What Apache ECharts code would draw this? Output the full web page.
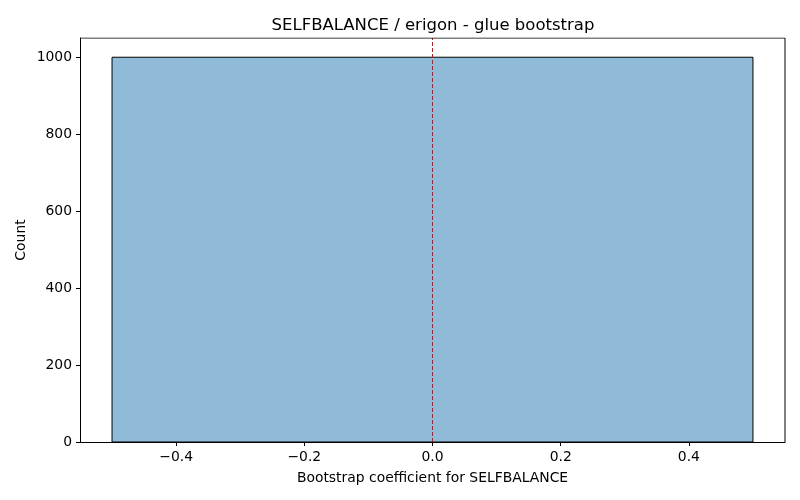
<!DOCTYPE html>
<html>
<head>
<meta charset="utf-8">
<script src="https://cdn.jsdelivr.net/npm/echarts@6/dist/echarts.min.js"></script>
<style>html,body{margin:0;padding:0;background:#fff}#c{width:800px;height:500px}</style>
</head>
<body>
<div id="c"></div>
<script>
const binStarts = [-0.5];
const binEnds = [0.5];
const counts = [1000];
const xTicks = [-0.4, -0.2, 0.0, 0.2, 0.4];
const yTicks = [0, 200, 400, 600, 800, 1000];
const refLineX = 0;

const chart = echarts.init(document.getElementById('c'), null, {renderer: 'canvas'});
const font = 'DejaVu Sans';
const fmtX = v => (v < 0 ? '\u2212' : '') + Math.abs(v).toFixed(1);

chart.setOption({
  animation: false,
  backgroundColor: '#fff',
  title: {
    text: 'SELFBALANCE / erigon - glue bootstrap',
    left: 428, textAlign: 'center', top: 12,
    textStyle: {fontFamily: font, fontSize: 16.5, fontWeight: 'normal', color: '#000'}
  },
  grid: {left: 80, right: 15, top: 38, bottom: 58, containLabel: false},
  xAxis: {
    type: 'value', min: -0.55, max: 0.55,
    name: 'Bootstrap coefficient for SELFBALANCE', nameLocation: 'middle', nameGap: 29,
    nameTextStyle: {fontFamily: font, fontSize: 13.9, color: '#000'},
    axisLine: {show: true, onZero: false, lineStyle: {color: '#000', width: 1}},
    axisTick: {show: true, customValues: xTicks, length: 4, lineStyle: {color: '#000'}},
    axisLabel: {customValues: xTicks, formatter: fmtX, fontFamily: font, fontSize: 13.9, color: '#000', margin: 8},
    splitLine: {show: false}
  },
  yAxis: {
    type: 'value', min: 0, max: 1050,
    name: 'Count', nameLocation: 'middle', nameGap: 52, nameMoveOverlap: false,
    nameTextStyle: {fontFamily: font, fontSize: 13.9, color: '#000'},
    axisLine: {show: true, onZero: false, lineStyle: {color: '#000', width: 1}},
    axisTick: {show: true, customValues: yTicks, length: 4, lineStyle: {color: '#000'}},
    axisLabel: {customValues: yTicks, formatter: v => String(v), fontFamily: font, fontSize: 13.9, color: '#000', margin: 8},
    splitLine: {show: false}
  },
  series: [
    {
      type: 'custom',
      renderItem: function (params, api) {
        const x0 = api.value(0), x1 = api.value(1), c = api.value(2);
        const p0 = api.coord([x0, c]);
        const p1 = api.coord([x1, 0]);
        return {
          type: 'rect',
          shape: {x: p0[0], y: p0[1], width: p1[0] - p0[0], height: p1[1] - p0[1]},
          style: {fill: '#8fbbd9', stroke: '#000', lineWidth: 1}
        };
      },
      data: counts.map((c, i) => [binStarts[i], binEnds[i], c]),
      encode: {x: [0, 1], y: 2},
      z: 2
    },
    {
      type: 'line',
      data: [[refLineX, 0], [refLineX, 1050]],
      symbol: 'none',
      lineStyle: {color: '#ff0000', type: [4, 2], width: 1},
      z: 3
    },
    {
      type: 'line', data: [[-0.55, 1050], [0.55, 1050]], symbol: 'none',
      lineStyle: {color: '#000', width: 1}, z: 4, silent: true
    },
    {
      type: 'line', data: [[0.55, 0], [0.55, 1050]], symbol: 'none',
      lineStyle: {color: '#000', width: 1}, z: 4, silent: true
    }
  ]
});
</script>
</body>
</html>
